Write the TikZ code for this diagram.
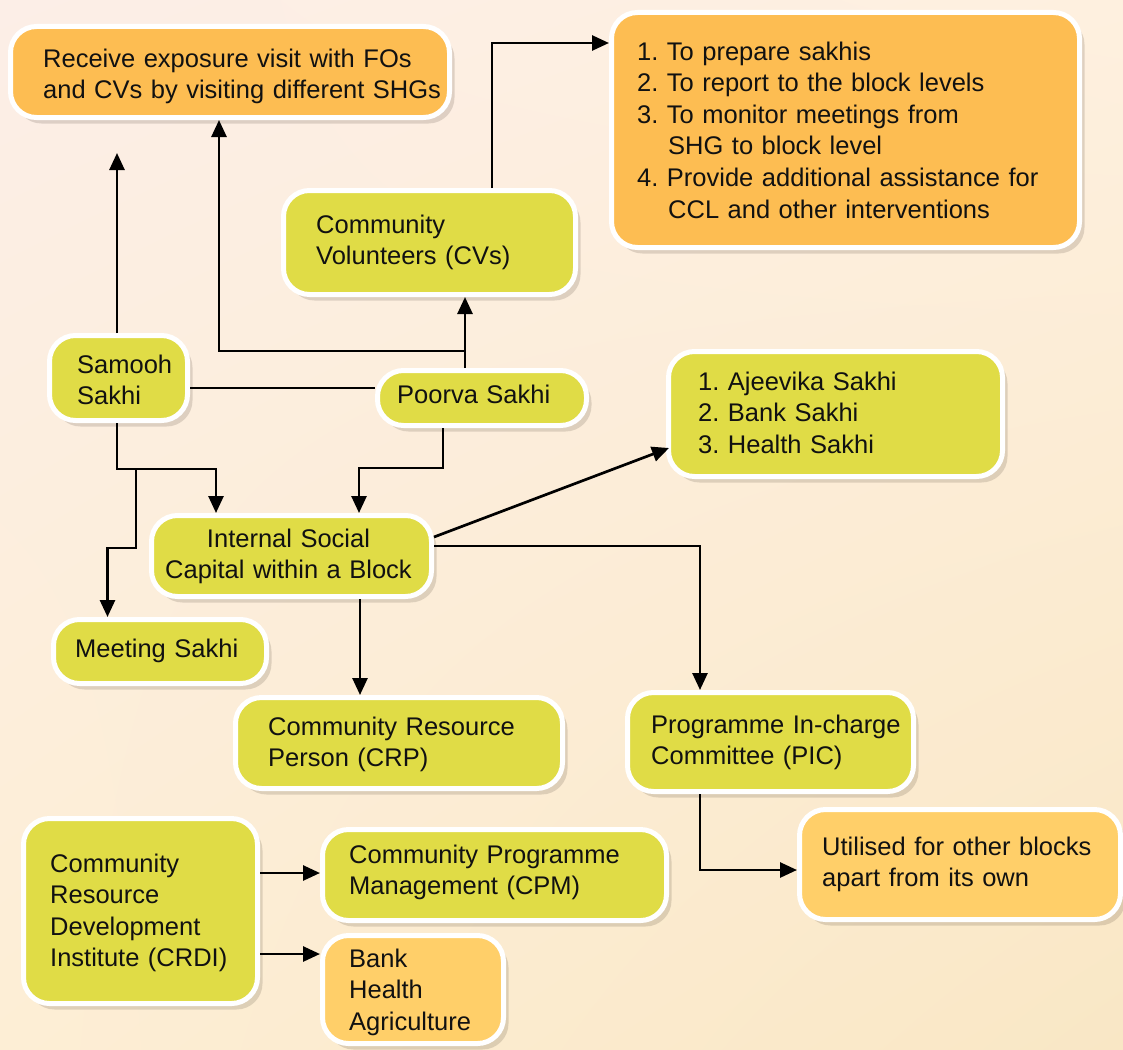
\documentclass[tikz,border=0pt]{standalone}
\usepackage{fontspec}
\setmainfont{Liberation Sans}
\usetikzlibrary{arrows.meta,shadows,shadings,calc}
\frenchspacing
\definecolor{bxgreen}{HTML}{E0DC46}
\definecolor{bxorange}{HTML}{FDBD52}
\definecolor{bxlight}{HTML}{FFCF69}
\definecolor{bgUL}{HTML}{FCEEE7}
\definecolor{bgUR}{HTML}{FEF0DF}
\definecolor{bgLL}{HTML}{FDEED5}
\definecolor{bgLR}{HTML}{F9E7C5}
\definecolor{txtcol}{HTML}{111111}
\tikzset{
  boxbase/.style={draw=white, line width=5pt, rounded corners=26pt,
    drop shadow={shadow xshift=5pt, shadow yshift=-6pt, opacity=.14, fill=black!80!brown}},
  gbox/.style={boxbase, fill=bxgreen},
  obox/.style={boxbase, fill=bxorange},
  lbox/.style={boxbase, fill=bxlight},
  txt/.style={inner sep=0pt, text width=420pt, align=left,
    font=\fontsize{25.5}{31.6}\selectfont\frenchspacing, text=txtcol},
  conn/.style={draw=black, line width=2.7pt, line join=miter},
  arr/.style={conn, -{Triangle[length=17pt,width=15pt]}},
}
% name, L, T, R, B, text x offset, first baseline offset, style, text
\newcommand\flowbox[9]{%
  \node[#8, minimum width={#4-#2-5}, minimum height={#5-#3-5}, inner sep=0pt]
    (#1) at ({(#2+#4)/2},{(#3+#5)/2}) {};
  \node[txt, anchor=base west] (#1-t) at ($(#1.north west)+(#6,#7)$) {#9};}
\begin{document}
\begin{tikzpicture}[x=1pt,y=-1pt]
\useasboundingbox (0,0) rectangle (1123,1049);
\shade[upper left=bgUL, upper right=bgUR, lower left=bgLL, lower right=bgLR]
  (0,0) rectangle (1123,1049);

\flowbox{recv}{8}{24}{452}{120}{35}{43}{obox}{Receive exposure visit with FOs\\and CVs by visiting different SHGs}
\flowbox{tasks}{609}{10}{1082}{250}{28}{50}{obox}{1. To prepare sakhis\\2. To report to the block levels\\3. To monitor meetings from\\\hspace*{31pt}SHG to block level\\4. Provide additional assistance for\\\hspace*{31pt}CCL and other interventions}
\flowbox{cvs}{281}{188}{578}{297}{35}{45}{gbox}{Community\\Volunteers (CVs)}
\flowbox{samooh}{47}{333}{190}{423}{30}{40}{gbox}{Samooh\\Sakhi}
\flowbox{poorva}{375}{368}{589}{428}{22}{35}{gbox}{Poorva Sakhi}
\flowbox{ajeevika}{666}{349}{1005}{479}{32}{41}{gbox}{1. Ajeevika Sakhi\\2. Bank Sakhi\\3. Health Sakhi}
\node[gbox, minimum width=280pt, minimum height=81pt, inner sep=0pt] (isc) at (291.5,556) {};
\node[txt, text width=300pt, align=center, anchor=base] (isc-t) at ($(isc.north)+(-3,34)$) {Internal Social\\Capital within a Block};
\flowbox{meeting}{51}{617}{269}{686}{24}{40}{gbox}{Meeting Sakhi}
\flowbox{crp}{233}{695}{565}{791}{35}{40}{gbox}{Community Resource\\Person (CRP)}
\flowbox{pic}{625}{690}{916}{794}{26}{43}{gbox}{Programme In-charge\\Committee (PIC)}
\flowbox{util}{797}{807}{1123}{922}{25}{48}{lbox}{Utilised for other blocks\\apart from its own}
\flowbox{crdi}{21}{816}{260}{1006}{29}{56}{gbox}{Community\\Resource\\Development\\Institute (CRDI)}
\flowbox{cpm}{320}{827}{669}{923}{29}{36}{gbox}{Community Programme\\Management (CPM)}
\flowbox{bank}{320}{933}{506}{1046}{29}{34}{lbox}{Bank\\Health\\Agriculture}

% helper coordinates
\coordinate (samtip) at (117,153);
\coordinate (pv) at (465,351);
\coordinate (rv) at (219,0);
\coordinate (cv) at (492,43);
\coordinate (sp) at (0,388);
\coordinate (sj) at (136,469);
\coordinate (se) at (216,469);
\coordinate (mj) at (107.5,548);
\coordinate (pb) at (443,468);
\coordinate (pj) at (359,468);
\coordinate (ie) at (0,537);
\coordinate (ajtip) at (669,448);
\coordinate (pc) at (700,546);
\coordinate (cr) at (360,0);
\coordinate (pu) at (700,870);
\coordinate (c1) at (0,873);
\coordinate (c2) at (0,954);

% connectors
\draw[arr] (samooh.north -| samtip) -- (samtip);
\draw[arr] (poorva.north -| pv) -- (cvs.south -| pv);
\draw[arr] (pv) -| (recv.south -| rv);
\draw[arr] (cvs.north -| cv) |- (tasks.west |- cv);
\draw[conn] (samooh.east |- sp) -- (poorva.west |- sp);
\draw[arr] (samooh.south -| samtip) |- (se) -- (isc.north -| se);
\draw[arr] (sj) |- (mj) -- (meeting.north -| mj);
\draw[arr] (poorva.south -| pb) -- (pb) -- (pj) -- (isc.north -| pj);
\draw[arr] (isc.east |- ie) -- (ajtip);
\draw[arr] (isc.east |- pc) -| (pic.north -| pc);
\draw[arr] (isc.south -| cr) -- (crp.north -| cr);
\draw[arr] (pic.south -| pu) |- (util.west |- pu);
\draw[arr] (crdi.east |- c1) -- (cpm.west |- c1);
\draw[arr] (crdi.east |- c2) -- (bank.west |- c2);
\end{tikzpicture}
\end{document}
